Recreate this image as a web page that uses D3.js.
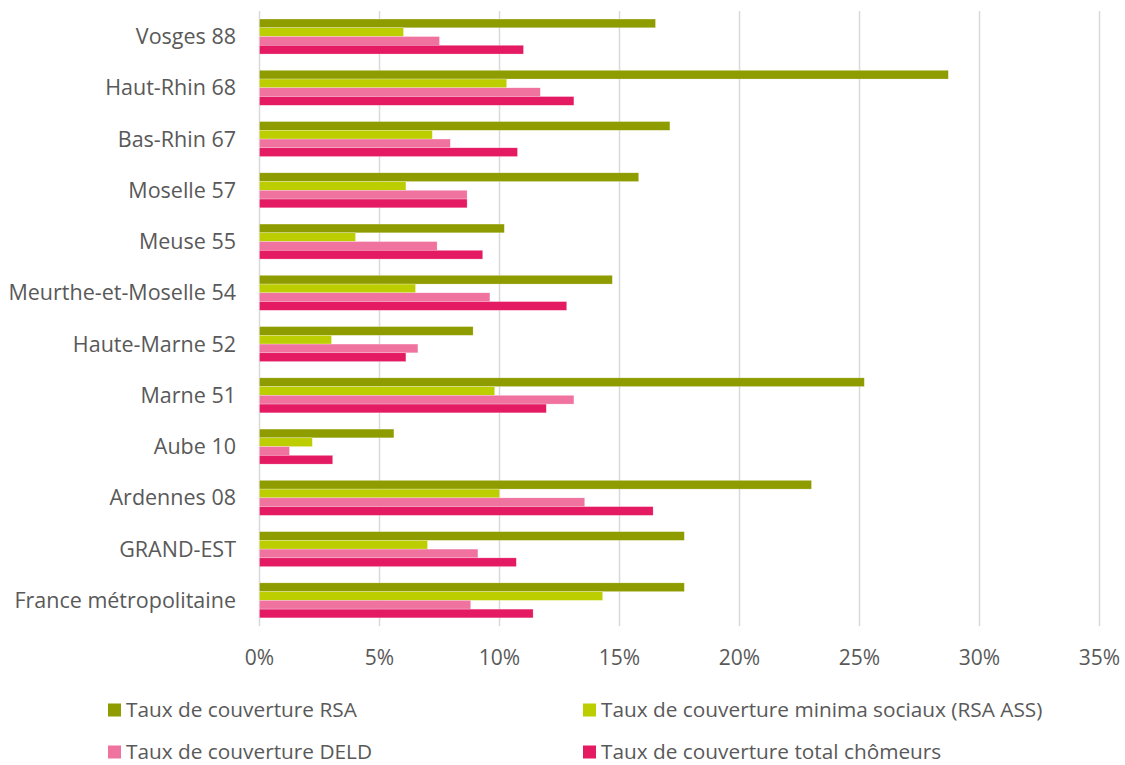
<!DOCTYPE html>
<html>
<head>
<meta charset="utf-8">
<script src="https://cdn.jsdelivr.net/npm/d3@7"></script>
<style>
  body { margin: 0; background: #fff; }
  svg { font-family: "Open Sans", sans-serif; }
</style>
</head>
<body>
<div id="chart"></div>
<script>
// categories, top to bottom
const regions = ["Vosges 88", "Haut-Rhin 68", "Bas-Rhin 67", "Moselle 57", "Meuse 55",
  "Meurthe-et-Moselle 54", "Haute-Marne 52", "Marne 51", "Aube 10", "Ardennes 08",
  "GRAND-EST", "France métropolitaine"];

const seriesNames = ["Taux de couverture RSA", "Taux de couverture minima sociaux (RSA ASS)",
  "Taux de couverture DELD", "Taux de couverture total chômeurs"];

// values in %
const tauxRSA   = [16.5, 28.7, 17.1, 15.8, 10.2, 14.7, 8.9, 25.2, 5.6, 23.0, 17.7, 17.7];
const tauxMinima = [6.0, 10.3, 7.2, 6.1, 4.0, 6.5, 3.0, 9.8, 2.2, 10.0, 7.0, 14.3];
const tauxDELD  = [7.5, 11.7, 7.95, 8.65, 7.4, 9.6, 6.6, 13.1, 1.25, 13.55, 9.1, 8.8];
const tauxTotal = [11.0, 13.1, 10.75, 8.65, 9.3, 12.8, 6.1, 11.95, 3.05, 16.4, 10.7, 11.4];

const xTicks = [0, 5, 10, 15, 20, 25, 30, 35];
const colors = ["#8f9c00", "#bccd00", "#f0729f", "#e41a62"];

const allSeries = [tauxRSA, tauxMinima, tauxDELD, tauxTotal];

const W = 1125, H = 765;
const svg = d3.select("#chart").append("svg")
  .attr("width", W)
  .attr("height", H);

const x = d3.scaleLinear().domain([0, 35]).range([259.5, 1099.5]);
const y = d3.scaleBand().domain(regions).range([10.9, 626])
  .paddingInner(0.317).paddingOuter(0.1585);
const ySub = d3.scaleBand().domain(d3.range(4)).range([0, y.bandwidth()]);

// gridlines
svg.append("g").selectAll("line")
  .data(xTicks)
  .join("line")
  .attr("x1", d => x(d)).attr("x2", d => x(d))
  .attr("y1", 10.9).attr("y2", 626)
  .attr("stroke", "#d9d9d9")
  .attr("stroke-width", 1.5);

// bars
const rows = regions.map((r, i) => ({ region: r, values: allSeries.map(s => s[i]) }));
const groups = svg.append("g").selectAll("g")
  .data(rows)
  .join("g")
  .attr("transform", d => `translate(0, ${y(d.region)})`);

groups.selectAll("rect")
  .data(d => d.values.map((v, k) => ({ v, k })))
  .join("rect")
  .attr("x", x(0))
  .attr("y", d => ySub(d.k))
  .attr("width", d => x(d.v) - x(0))
  .attr("height", ySub.bandwidth())
  .attr("fill", d => colors[d.k])
  .attr("stroke", "#fff")
  .attr("stroke-opacity", 0.5)
  .attr("stroke-width", 0.5);

// y labels
svg.append("g").selectAll("text")
  .data(regions)
  .join("text")
  .attr("x", 236)
  .attr("y", d => y(d) + y.bandwidth() / 2)
  .attr("dy", "0.35em")
  .attr("text-anchor", "end")
  .attr("fill", "#595959")
  .style("font-size", "21.5px")
  .text(d => d);

// x tick labels
svg.append("g").selectAll("text")
  .data(xTicks)
  .join("text")
  .attr("x", d => x(d))
  .attr("y", 665)
  .attr("text-anchor", "middle")
  .attr("fill", "#595959")
  .style("font-size", "21px")
  .text(d => d + "%");

// legend
const legendPos = [[108, 710], [583, 710], [108, 752], [583, 752]];
const legend = svg.append("g").selectAll("g")
  .data(seriesNames)
  .join("g")
  .attr("transform", (d, i) => `translate(${legendPos[i][0]}, ${legendPos[i][1]})`);

legend.append("rect")
  .attr("x", 0).attr("y", -6.5)
  .attr("width", 13).attr("height", 13)
  .attr("fill", (d, i) => colors[i]);

legend.append("text")
  .attr("x", 18)
  .attr("dy", "0.35em")
  .attr("fill", "#595959")
  .style("font-size", "20.8px")
  .text(d => d);
</script>
</body>
</html>
